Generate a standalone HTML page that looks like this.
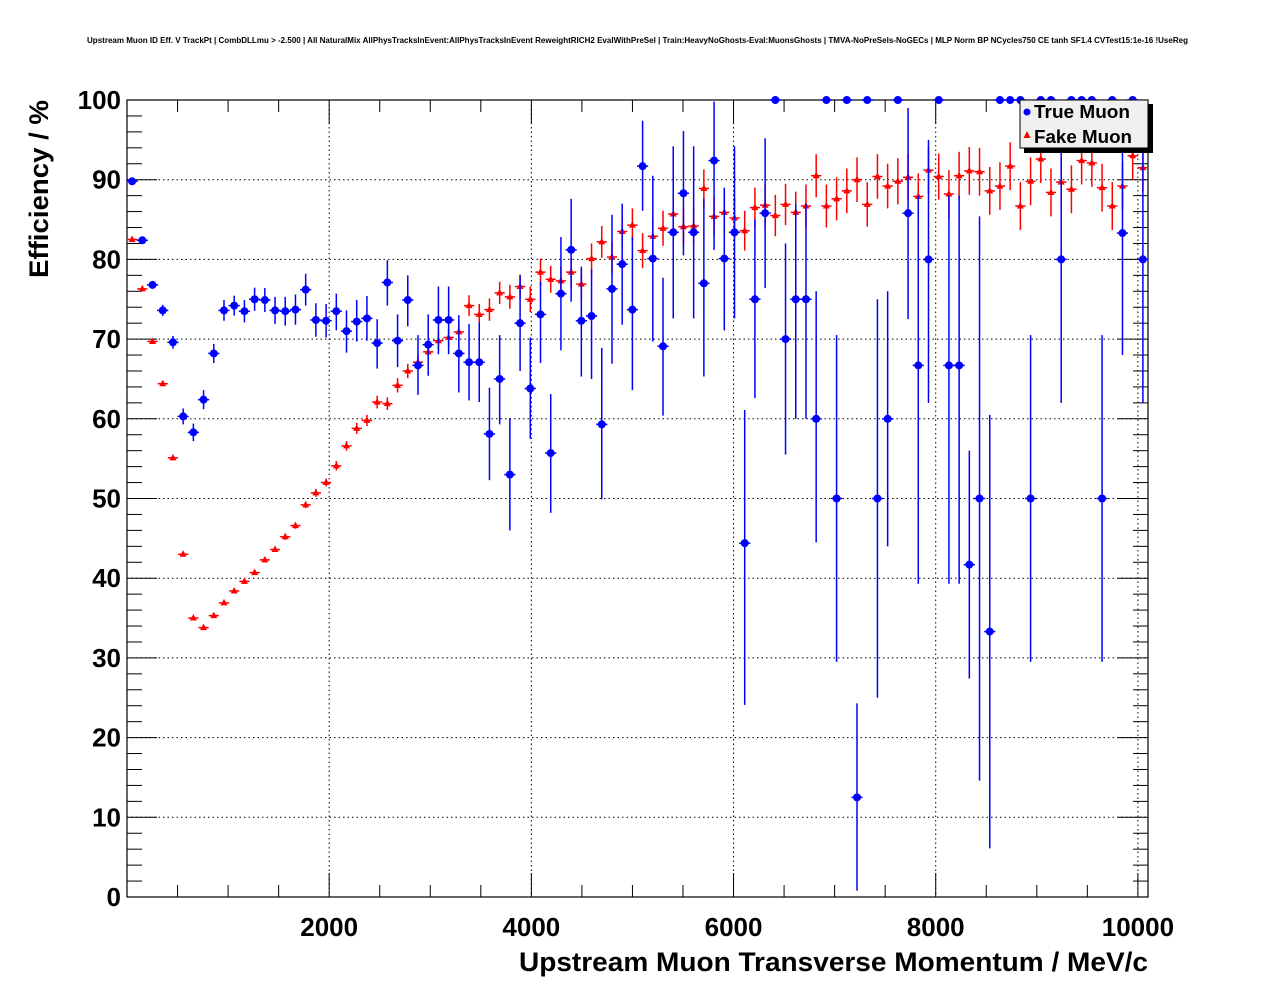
<!DOCTYPE html>
<html><head><meta charset="utf-8"><style>
html,body{margin:0;padding:0;background:#fff;}
svg{display:block;font-family:"Liberation Sans",Arial,sans-serif;}
</style></head><body>
<svg id="chart" width="1276" height="996" viewBox="0 0 1276 996" xmlns="http://www.w3.org/2000/svg">
<rect x="0" y="0" width="1276" height="996" fill="#fff"/>
<text x="87" y="43" font-size="8" font-weight="bold" textLength="1101" lengthAdjust="spacingAndGlyphs">Upstream Muon ID Eff. V TrackPt | CombDLLmu &gt; -2.500 | All NaturalMix AllPhysTracksInEvent:AllPhysTracksInEvent ReweightRICH2 EvalWithPreSel | Train:HeavyNoGhosts-Eval:MuonsGhosts | TMVA-NoPreSels-NoGECs | MLP Norm BP NCycles750 CE tanh SF1.4 CVTest15:1e-16 !UseReg</text>
<g id="grid"></g>
<g id="axes"></g>
<g id="fake"></g>
<g id="true"></g>
<text x="519" y="971" font-size="27" font-weight="bold" textLength="629" lengthAdjust="spacingAndGlyphs">Upstream Muon Transverse Momentum / MeV/c</text>
<text transform="translate(48,278) rotate(-90)" font-size="27" font-weight="bold" textLength="178" lengthAdjust="spacingAndGlyphs">Efficiency / %</text>
<g>
<rect x="1024" y="104" width="129" height="49" fill="#000"/>
<rect x="1020" y="100" width="128" height="48" fill="#f0f0f0" stroke="#000" stroke-width="1"/>
<circle cx="1027" cy="112" r="3.5" fill="#0000ff"/>
<text x="1034" y="118" font-size="18" font-weight="bold" textLength="96" lengthAdjust="spacingAndGlyphs">True Muon</text>
<polygon points="1027,131 1030.5,138 1023.5,138" fill="#ff0000"/>
<text x="1034" y="143" font-size="18" font-weight="bold" textLength="98" lengthAdjust="spacingAndGlyphs">Fake Muon</text>
</g>
</svg>
<script>
const binWidth = 101;
const xTicks = [2000, 4000, 6000, 8000, 10000];
const xTickLabels = ["2000", "4000", "6000", "8000", "10000"];
const yTicks = [0, 10, 20, 30, 40, 50, 60, 70, 80, 90, 100];
const yTickLabels = ["0", "10", "20", "30", "40", "50", "60", "70", "80", "90", "100"];
const trueEff = [89.8,82.4,76.8,73.6,69.6,60.3,58.3,62.4,68.2,73.6,74.2,73.5,75.0,74.9,73.6,73.5,73.7,76.2,72.4,72.3,73.5,71.0,72.2,72.6,69.5,77.1,69.8,74.9,66.7,69.3,72.4,72.4,68.2,67.1,67.1,58.1,65.0,53.0,72.0,63.8,73.1,55.7,75.7,81.2,72.3,72.9,59.3,76.3,79.4,73.7,91.7,80.1,69.1,83.4,88.3,83.4,77.0,92.4,80.1,83.4,44.4,75.0,85.8,100,70,75,75,60,100,50,100,12.5,100,50,60,100,85.8,66.7,80,100,66.7,66.7,41.7,50,33.3,100,100,100,50,100,100,80,100,100,100,50,100,83.3,100,80];
const trueErrHi = [0.3,0.3,0.4,0.7,0.8,1.0,1.1,1.2,1.2,1.3,1.25,1.4,1.45,1.5,1.7,1.8,1.9,2.0,2.1,2.1,2.2,2.6,2.7,2.8,3.0,2.8,3.3,3.1,3.8,3.8,4.2,4.2,4.8,4.8,5.0,5.8,5.5,7.1,6.0,6.4,4.1,7.4,7.1,6.4,6.8,5.8,9.6,9.3,7.6,9.1,5.7,10.4,8.6,10.8,7.8,10.8,10.6,7.4,8.9,10.8,16.7,10,9.4,0,12,12,12,16,0,20.5,0,11.8,0,25,16,0,13.2,21.3,15,0,21.3,21.3,14.3,35.4,27.2,0,0,0,20.5,0,0,15,0,0,0,20.5,0,11.7,0,15];
const trueErrLo = [0.3,0.3,0.4,0.7,0.8,1.0,1.1,1.2,1.2,1.3,1.25,1.4,1.45,1.5,1.7,1.8,1.9,2.0,2.1,2.1,2.4,2.7,2.5,2.8,3.2,2.9,3.3,3.3,3.7,3.9,4.3,4.3,4.9,4.8,5.0,5.8,5.7,7.0,6.0,6.3,6.1,7.5,7.1,6.5,7.0,7.9,9.4,9.4,7.6,10.1,5.6,10.4,8.7,10.8,7.8,10.8,11.7,11.2,9.0,10.8,20.3,12.4,9.4,0,14.5,15,15,15.5,0,20.5,0,11.7,0,25,16,0,13.3,27.4,18,0,27.4,27.4,14.3,35.4,27.2,0,0,0,20.5,0,0,18,0,0,0,20.5,0,15.3,0,18];
const fakeEff = [82.5,76.3,69.7,64.4,55.1,43,35,33.8,35.3,36.9,38.4,39.6,40.7,42.3,43.6,45.2,46.6,49.2,50.7,52.0,54.1,56.6,58.8,59.8,62.1,61.9,64.2,66.0,67.1,68.4,69.8,70.2,70.9,74.2,73.1,73.7,75.8,75.3,76.6,75.0,78.4,77.5,77.3,78.4,76.9,80.1,82.2,80.3,83.5,84.3,81.1,82.9,83.9,85.7,84.1,84.2,88.9,85.4,85.9,85.2,83.6,86.5,86.8,85.5,86.9,85.9,86.7,90.5,86.7,87.6,88.6,90.0,86.9,90.4,89.2,89.8,90.3,87.9,91.2,90.4,88.2,90.5,91.1,91.0,88.6,89.2,91.7,86.7,89.8,92.6,88.4,89.7,88.8,92.4,92.1,89.0,86.7,89.2,93.0,91.5];
const fakeErr = [0.2,0.2,0.2,0.2,0.2,0.2,0.2,0.2,0.3,0.3,0.3,0.3,0.3,0.3,0.3,0.4,0.4,0.4,0.5,0.5,0.6,0.6,0.7,0.7,0.8,0.8,0.9,0.9,1.0,1.0,1.1,1.1,1.2,1.3,1.3,1.4,1.4,1.5,1.5,1.6,1.7,1.7,1.8,1.8,1.9,1.9,2.0,2.0,2.1,2.1,2.2,2.2,2.2,2.3,2.3,2.3,2.4,2.4,2.4,2.5,2.5,2.5,2.6,2.6,2.6,2.6,2.7,2.7,2.7,2.7,2.8,2.8,2.8,2.8,2.8,2.9,2.9,2.9,2.9,2.9,3.0,3.0,3.0,3.0,3.0,3.0,3.0,3.0,3.0,3.0,3.0,3.0,3.0,3.0,3.0,3.0,3.0,3.0,3.0,3.0];

const NS = "http://www.w3.org/2000/svg";
const X0 = 127, X1 = 1148, Y0 = 897, Y1 = 100;
const xMax = 10100, yMax = 100;
function xs(v){ return X0 + (X1 - X0) * v / xMax; }
function ys(v){ return Y0 - (Y0 - Y1) * v / yMax; }
function mk(tag, attrs, parent){ const e = document.createElementNS(NS, tag); for (const k in attrs) e.setAttribute(k, attrs[k]); parent.appendChild(e); return e; }

const grid = document.getElementById('grid');
const axes = document.getElementById('axes');
xTicks.forEach((t) => {
  const l = mk('line', {x1: xs(t), x2: xs(t), y1: Y1, y2: Y0, stroke: '#000', 'stroke-width': 1, 'stroke-dasharray': '1.5,3'}, grid);
  
  
});
yTicks.forEach((t) => {
  if (t === 0 || t === 100) return;
  const l = mk('line', {x1: X0, x2: X1, y1: ys(t), y2: ys(t), stroke: '#000', 'stroke-width': 1, 'stroke-dasharray': '1.5,3'}, grid);
  
  
});
const frame = mk('rect', {x: X0, y: Y1, width: X1 - X0, height: Y0 - Y1, fill: 'none', stroke: '#000', 'stroke-width': 1.2}, axes);


for (let v = 0; v <= 10000; v += 500) {
  const major = v % 2000 === 0;
  const len = major ? 24 : 12;
  const a = mk('line', {x1: xs(v), x2: xs(v), y1: Y0, y2: Y0 - len, stroke: '#000', 'stroke-width': 1}, axes);
  
  
  const b = mk('line', {x1: xs(v), x2: xs(v), y1: Y1, y2: Y1 + len, stroke: '#000', 'stroke-width': 1}, axes);
  
  
}
for (let v = 0; v <= 100; v += 2) {
  const major = v % 10 === 0;
  const len = major ? 30 : 15;
  const a = mk('line', {x1: X0, x2: X0 + len, y1: ys(v), y2: ys(v), stroke: '#000', 'stroke-width': 1}, axes);
  
  
  const b = mk('line', {x1: X1, x2: X1 - len, y1: ys(v), y2: ys(v), stroke: '#000', 'stroke-width': 1}, axes);
  
  
}
xTicks.forEach((t, i) => {
  const tx = mk('text', {x: xs(t), y: 936, 'font-size': 26, 'font-weight': 'bold', 'text-anchor': 'middle'}, axes);
  tx.textContent = xTickLabels[i];
  
  
});
yTicks.forEach((t, i) => {
  const tx = mk('text', {x: 121, y: ys(t) + 9, 'font-size': 26, 'font-weight': 'bold', 'text-anchor': 'end'}, axes);
  tx.textContent = yTickLabels[i];
  
  
});

const fakeG = document.getElementById('fake');
fakeEff.forEach((v, i) => {
  const c = binWidth * (i + 0.5);
  const cx = xs(c), cy = ys(v);
  const g = mk('g', {}, fakeG);
  
  
  mk('line', {x1: xs(c - binWidth / 2), x2: xs(c + binWidth / 2), y1: cy, y2: cy, stroke: '#ff0000', 'stroke-width': 1.5}, g);
  mk('line', {x1: cx, x2: cx, y1: ys(v + fakeErr[i]), y2: ys(v - fakeErr[i]), stroke: '#ff0000', 'stroke-width': 1.5}, g);
  mk('polygon', {points: `${cx},${cy - 4} ${cx + 3.5},${cy + 2.5} ${cx - 3.5},${cy + 2.5}`, fill: '#ff0000'}, g);
});
const trueG = document.getElementById('true');
trueEff.forEach((v, i) => {
  const c = binWidth * (i + 0.5);
  const cx = xs(c), cy = ys(v);
  const g = mk('g', {}, trueG);
  
  
  mk('line', {x1: xs(c - binWidth / 2) - 0.5, x2: xs(c + binWidth / 2) + 0.5, y1: cy, y2: cy, stroke: '#0000ff', 'stroke-width': 1.5}, g);
  if (trueErrHi[i] + trueErrLo[i] > 0)
    mk('line', {x1: cx, x2: cx, y1: ys(v + trueErrHi[i]), y2: ys(v - trueErrLo[i]), stroke: '#0000ff', 'stroke-width': 1.5}, g);
  mk('circle', {cx: cx, cy: cy, r: 4, fill: '#0000ff'}, g);
});
</script>
</body></html>
